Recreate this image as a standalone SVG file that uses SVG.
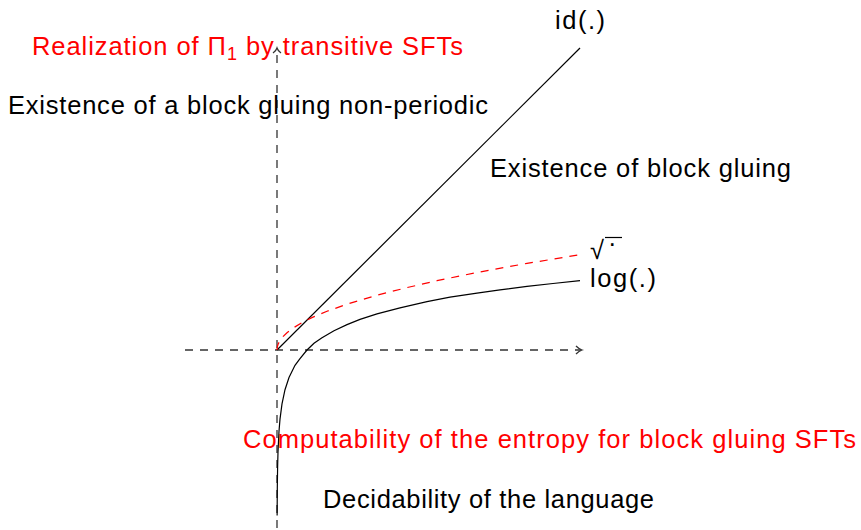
<svg xmlns="http://www.w3.org/2000/svg" width="861" height="530" viewBox="0 0 861 530">
<style>
text{font-family:"Liberation Sans","DejaVu Sans",sans-serif;font-size:25.5px;fill:#000}
.red{fill:#ff0000}
.axis{stroke:#333;stroke-width:1.3;fill:none;stroke-dasharray:8 7}
.curve{stroke:#000;stroke-width:1.2;fill:none}
.rcurve{stroke:#ff0000;stroke-width:1.2;fill:none;stroke-dasharray:8 7}
.head{stroke:#333;stroke-width:1.3;fill:none}
</style>
<rect width="861" height="530" fill="#fff"/>
<g id="connectors">
<path class="axis" d="M185,350 H581"/>
<path class="head" d="M576,346 Q579,349 582,350 Q579,351 576,354"/>
<path class="axis" d="M277,528 V49"/>
<path class="head" d="M273,53 Q276,51 277,48 Q278,51 281,53"/>
<path id="id-line" class="curve" d="M277,350 L580,48"/>
<path id="sqrt-curve" class="rcurve" d="M277,350 L277.3,347 L278,344.5 L280,340.5 L283,336.6 L287,332.7 L293,328.1 L302,322.6 L313,317.1 L327,311.3 L347,304.2 L377,295.2 L407,287.6 L437,280.7 L477,272.5 L527,263.4 L580,254.7"/>
<path id="log-curve" class="curve" d="M277.12,515.6 L277.3,488.2 L277.6,467.4 L278,452 L279,431.2 L280,419.1 L282,403.8 L285,389.7 L289,377.5 L295,365.3 L300,358.6 L307,350 L314,343.3 L322,337.8 L334,330.7 L347,324.6 L360,319.4 L377,313.9 L400,307.8 L427,301.7 L450,297.2 L477,293.1 L500,289.9 L527,286.4 L553,283.5 L580,280.6"/>
</g>
<g id="label-realization"><text class="red" x="32" y="55" textLength="431" lengthAdjust="spacing">Realization of Π<tspan font-size="18" dy="5">1</tspan><tspan dy="-5"> by transitive SFTs</tspan></text></g>
<g id="label-existence-nonperiodic"><text x="8" y="114" textLength="480" lengthAdjust="spacing">Existence of a block gluing non-periodic</text></g>
<g id="label-id"><text x="555" y="29" textLength="50" lengthAdjust="spacing">id(.)</text></g>
<g id="label-existence"><text x="490" y="177" textLength="301" lengthAdjust="spacing">Existence of block gluing</text></g>
<g id="label-sqrt"><text x="590" y="259" font-size="30">√</text><text x="608" y="252" font-size="22">·</text><line x1="605" y1="237.5" x2="622" y2="237.5" stroke="#000" stroke-width="1.2"/></g>
<g id="label-log"><text x="590" y="287" textLength="66" lengthAdjust="spacing">log(.)</text></g>
<g id="label-computability"><text class="red" x="243" y="448" textLength="613" lengthAdjust="spacing">Computability of the entropy for block gluing SFTs</text></g>
<g id="label-decidability"><text x="323" y="508" textLength="331" lengthAdjust="spacing">Decidability of the language</text></g>
</svg>
